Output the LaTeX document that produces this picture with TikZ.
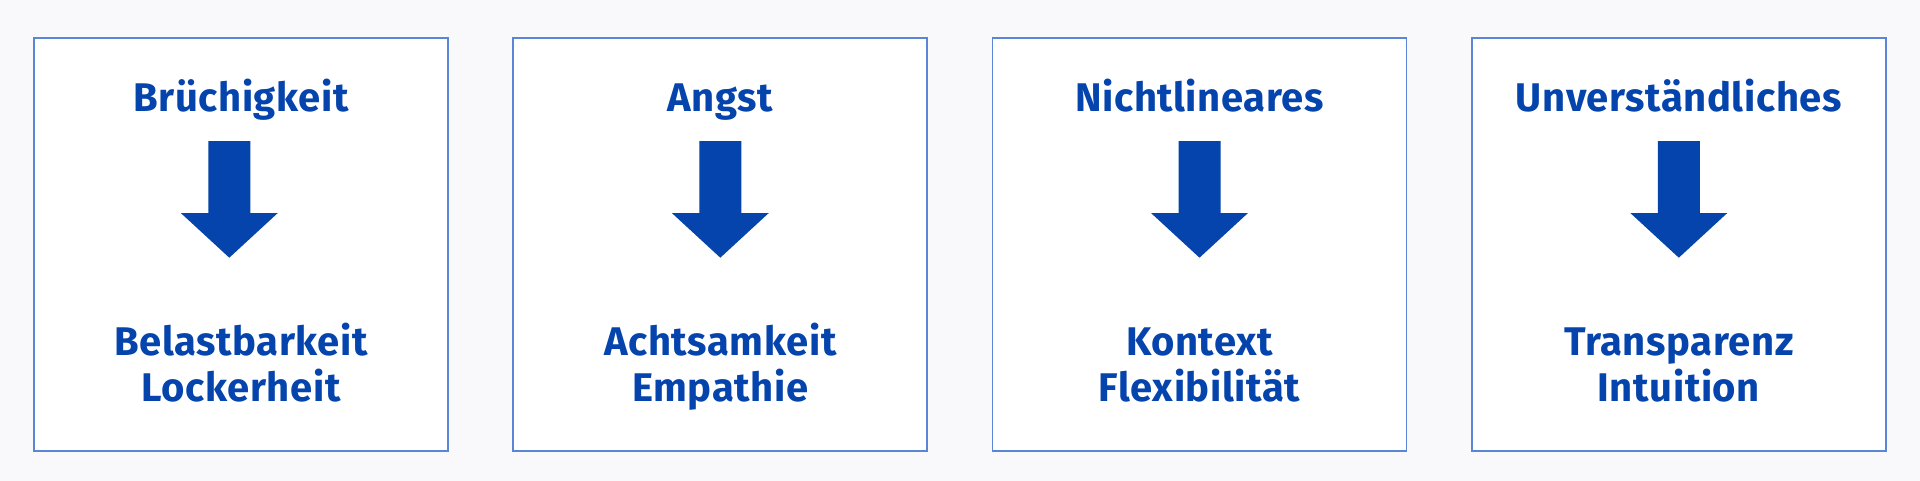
\documentclass[tikz,border=0pt]{standalone}
\usepackage{fontspec}
\setmainfont{Fira Sans}[LetterSpace=1.5]
\definecolor{ink}{HTML}{0444AC}
\definecolor{frame}{HTML}{5A86D8}
\definecolor{paper}{HTML}{F9F9FB}
\begin{document}
\begin{tikzpicture}[x=0.5pt,y=-0.5pt,
  box/.style={rectangle,draw=frame,line width=0.9pt,fill=white,minimum width=207pt,minimum height=206.5pt,inner sep=0},
  term/.style={text=ink,font=\fontsize{20}{23}\selectfont\bfseries,inner sep=0,anchor=base,align=center},
  down/.style={fill=ink}]
\fill[paper] (0,0) rectangle (1920,481);
\useasboundingbox (0,0) rectangle (1920,481);
\node[box] (b1) at (241,244.4) {};
\node[box] (b2) at (720.3,244.4) {};
\node[box] (b3) at (1199.5,244.4) {};
\node[box] (b4) at (1678.8,244.4) {};
\node[term] (t1) at (241,111.7) {Brüchigkeit};
\node[term] (t2) at (720.3,111.7) {Angst};
\node[term] (t3) at (1199.5,111.7) {Nichtlineares};
\node[term] (t4) at (1678.8,111.7) {Unverständliches};
% arrows: shaft 42 wide, head 97 wide
\coordinate (a1) at (229.3,141);
\coordinate (a2) at (720.3,141);
\coordinate (a3) at (1199.5,141);
\coordinate (a4) at (1678.8,141);
\fill[down] (a1) ++(-21,0) -- ++(42,0) -- ++(0,72) -- ++(27.5,0) -- ++(-48.5,44.7) -- ++(-48.5,-44.7) -- ++(27.5,0) -- cycle;
\fill[down] (a2) ++(-21,0) -- ++(42,0) -- ++(0,72) -- ++(27.5,0) -- ++(-48.5,44.7) -- ++(-48.5,-44.7) -- ++(27.5,0) -- cycle;
\fill[down] (a3) ++(-21,0) -- ++(42,0) -- ++(0,72) -- ++(27.5,0) -- ++(-48.5,44.7) -- ++(-48.5,-44.7) -- ++(27.5,0) -- cycle;
\fill[down] (a4) ++(-21,0) -- ++(42,0) -- ++(0,72) -- ++(27.5,0) -- ++(-48.5,44.7) -- ++(-48.5,-44.7) -- ++(27.5,0) -- cycle;
\node[term] (r1) at (241,401) {Belastbarkeit\\Lockerheit};
\node[term] (r2) at (720.3,401) {Achtsamkeit\\Empathie};
\node[term] (r3) at (1199.5,401) {Kontext\\Flexibilität};
\node[term] (r4) at (1678.8,401) {Transparenz\\Intuition};
\end{tikzpicture}
\end{document}
